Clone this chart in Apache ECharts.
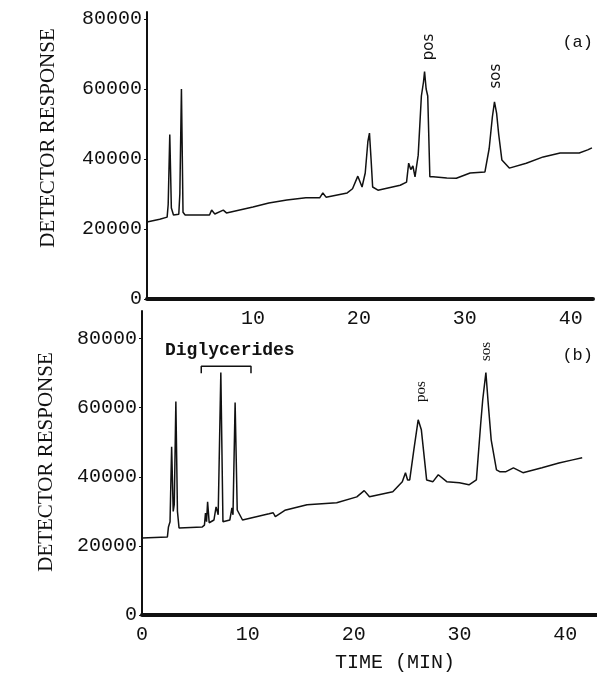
<!DOCTYPE html>
<html>
<head>
<meta charset="utf-8">
<script src="https://cdn.jsdelivr.net/npm/echarts@6/dist/echarts.min.js"></script>
<style>
  html, body { margin: 0; padding: 0; background: #fff; }
  #main { width: 597px; height: 677px; }
</style>
</head>
<body>
<div id="main"></div>
<script>
// panel (a): retention time (min) and detector response
var timeA = [0.0, 1.2, 1.9, 2.0, 2.15, 2.3, 2.5, 3.0, 3.1, 3.25, 3.4, 3.6, 5.9, 6.1, 6.4, 7.2, 7.5,
  10.0, 11.5, 13.2, 15.0, 16.3, 16.6, 16.9, 18.9, 19.4, 19.9, 20.3, 20.6, 20.85, 21.0, 21.15, 21.3,
  21.8, 23.9, 24.5, 24.7, 24.9, 25.1, 25.3, 25.6, 25.9, 26.1, 26.2, 26.35, 26.5, 26.7, 27.0, 28.3,
  29.2, 30.5, 31.9, 32.3, 32.6, 32.8, 33.0, 33.2, 33.5, 34.2, 35.8, 37.4, 39.0, 40.8, 41.6, 42.0];
var respA = [22000, 22800, 23400, 27000, 47000, 26000, 24000, 24200, 30000, 60000, 24800, 24000, 24000, 25400, 24300, 25400, 24600,
  26300, 27400, 28300, 28900, 28900, 30300, 29100, 30300, 31500, 35100, 32000, 36000, 45000, 47400, 40000, 32000,
  31100, 32500, 33400, 38800, 37000, 38000, 34900, 41100, 58000, 62000, 65000, 60000, 58000, 34900, 34900, 34600,
  34500, 36000, 36300, 43000, 52000, 56300, 53100, 47000, 39700, 37400, 38800, 40600, 41700, 41700, 42600, 43200];

// panel (b)
var timeB = [0.0, 2.4, 2.5, 2.65, 2.8, 2.95, 3.05, 3.2, 3.35, 3.5, 5.7, 5.9, 6.0, 6.1, 6.2, 6.35, 6.8, 7.0, 7.2,
  7.45, 7.65, 8.3, 8.5, 8.6, 8.8, 9.0, 9.5, 12.0, 12.4, 12.6, 13.5, 15.6, 18.4, 20.3, 21.0, 21.5, 23.7,
  24.6, 24.9, 25.1, 25.3, 25.7, 26.1, 26.4, 26.9, 27.5, 28.0, 28.8, 30.0, 30.9, 31.6, 32.0, 32.2, 32.5,
  32.7, 33.0, 33.5, 33.8, 34.4, 35.1, 36.0, 37.8, 39.4, 40.7, 41.6];
var respB = [22300, 22600, 25500, 27000, 48700, 30000, 32000, 61800, 30000, 25200, 25500, 26000, 29500, 27000, 32800, 26700, 27500, 31300, 29000,
  70200, 27000, 27500, 31000, 29000, 61500, 30400, 27500, 29300, 29600, 28500, 30300, 31900, 32500, 34200, 36000, 34200, 35700,
  38600, 41200, 39100, 39100, 48000, 56500, 53600, 39100, 38600, 40600, 38600, 38300, 37700, 39100, 55000, 62300, 70200,
  62000, 50700, 42000, 41500, 41500, 42600, 41200, 42600, 44000, 44900, 45500];

// "Diglycerides" bracket
var bracketT = [5.6, 5.6, 10.3, 10.3];
var bracketV = [70000, 72000, 72000, 70000];

function pairs(t, v) { return t.map(function (x, i) { return [x, v[i]]; }); }

var ink = '#111';
var mono = 'Liberation Mono';

var chart = echarts.init(document.getElementById('main'));

function xAx(grid, max, showZero) {
  return {
    gridIndex: grid, type: 'value', min: 0, max: max, interval: 10,
    axisLine: { show: true, lineStyle: { color: ink, width: 4 } },
    axisTick: { show: false },
    splitLine: { show: false },
    axisLabel: { showMinLabel: showZero, showMaxLabel: false, color: ink, fontFamily: mono, fontSize: 20, margin: 10 }
  };
}
function yAx(grid, max) {
  return {
    gridIndex: grid, type: 'value', min: 0, max: max, interval: 20000,
    axisLine: { show: true, onZero: false, lineStyle: { color: ink, width: 2 } },
    axisTick: { show: true, length: 3, lineStyle: { color: ink } },
    splitLine: { show: false },
    axisLabel: { showMaxLabel: false, color: ink, fontFamily: mono, fontSize: 20, margin: 5,
      formatter: function (v) { return String(v); } }
  };
}

chart.setOption({
  animation: false,
  backgroundColor: '#fff',
  grid: [
    { left: 147, right: 4, top: 12, height: 287 },
    { left: 142, right: 0, top: 311, height: 304 }
  ],
  xAxis: [xAx(0, 42.1, false), xAx(1, 43, true)],
  yAxis: [yAx(0, 82000), yAx(1, 88000)],
  series: [
    { type: 'line', xAxisIndex: 0, yAxisIndex: 0, data: pairs(timeA, respA), showSymbol: false,
      lineStyle: { color: ink, width: 1.5 } },
    { type: 'line', xAxisIndex: 1, yAxisIndex: 1, data: pairs(timeB, respB), showSymbol: false,
      lineStyle: { color: ink, width: 1.5 } },
    { type: 'line', xAxisIndex: 1, yAxisIndex: 1, data: pairs(bracketT, bracketV), showSymbol: false,
      lineStyle: { color: ink, width: 1.5 } }
  ]
});

function at(g, t, v) { return chart.convertToPixel({ xAxisIndex: g, yAxisIndex: g }, [t, v]); }

function label(pos, text, opt) {
  opt = opt || {};
  return {
    type: 'text', x: pos[0], y: pos[1], rotation: opt.rot || 0,
    style: {
      text: text, fill: ink, align: opt.align || 'center', verticalAlign: 'middle',
      font: (opt.weight || 'normal') + ' ' + (opt.size || 14) + 'px ' + (opt.family || 'DejaVu Sans')
    }
  };
}

var up = Math.PI / 2;
chart.setOption({
  graphic: [
    label([48, 138], 'DETECTOR RESPONSE', { rot: up, size: 21, family: 'Liberation Serif' }),
    label([46, 462], 'DETECTOR RESPONSE', { rot: up, size: 21, family: 'Liberation Serif' }),
    label([395, 663], 'TIME (MIN)', { size: 20, family: mono }),
    label([593, 42], '(a)', { align: 'right', size: 17, family: mono }),
    label([593, 355], '(b)', { align: 'right', size: 17, family: mono }),
    label(at(0, 26.6, 72000), 'pos', { rot: up, size: 15 }),
    label(at(0, 33.0, 63700), 'sos', { rot: up, size: 15 }),
    label(at(1, 26.4, 64700), 'pos', { rot: up, size: 15, family: 'Liberation Serif' }),
    label(at(1, 32.5, 76300), 'sos', { rot: up, size: 15, family: 'Liberation Serif' }),
    label(at(1, 8.3, 76600), 'Diglycerides', { size: 18, weight: 'bold', family: mono })
  ]
});
</script>
</body>
</html>
